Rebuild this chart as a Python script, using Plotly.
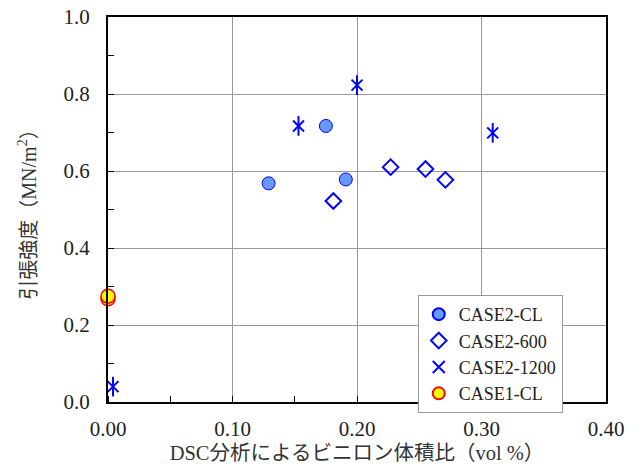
import plotly.graph_objects as go

# ---- data ----
cl2_x = [0.129, 0.175, 0.191]
cl2_y = [0.568, 0.717, 0.578]

s600_x = [0.181, 0.227, 0.255, 0.271]
s600_y = [0.522, 0.610, 0.605, 0.577]

s1200_x = [0.004, 0.153, 0.200, 0.309]
s1200_y = [0.040, 0.717, 0.823, 0.699]

cl1_x = [0.0, 0.0]
cl1_y = [0.268, 0.275]

x_ticks = [0.0, 0.1, 0.2, 0.3, 0.4]
x_labels = ["0.00", "0.10", "0.20", "0.30", "0.40"]
y_ticks = [0.0, 0.2, 0.4, 0.6, 0.8, 1.0]
y_labels = ["0.0", "0.2", "0.4", "0.6", "0.8", "1.0"]

LATIN = "Liberation Serif"
MIXED = "Liberation Serif, Noto Sans CJK JP"
TXT = "#222222"

fig = go.Figure()
fig.add_trace(go.Scatter(
    x=cl2_x, y=cl2_y, mode="markers", name="CASE2-CL",
    marker=dict(symbol="circle", size=13, color="#6699FF",
                line=dict(color="#0000FF", width=1)),
    cliponaxis=False))
fig.add_trace(go.Scatter(
    x=s600_x, y=s600_y, mode="markers", name="CASE2-600",
    marker=dict(symbol="diamond-open", size=12, color="#0000FF",
                line=dict(color="#0000FF", width=2)),
    cliponaxis=False))
fig.add_trace(go.Scatter(
    x=s1200_x, y=s1200_y, mode="markers", name="CASE2-1200",
    legendgroup="g1200",
    marker=dict(symbol="x-thin-open", size=11, color="#0000FF",
                line=dict(color="#0000FF", width=2)),
    cliponaxis=False))
fig.add_trace(go.Scatter(
    x=s1200_x, y=s1200_y, mode="markers", name="CASE2-1200",
    legendgroup="g1200", showlegend=False,
    marker=dict(symbol="line-ns-open", size=14, color="#0000FF",
                line=dict(color="#0000FF", width=2)),
    cliponaxis=False))
fig.add_trace(go.Scatter(
    x=cl1_x, y=cl1_y, mode="markers", name="CASE1-CL",
    marker=dict(symbol="circle", size=14, color="#FFFF00",
                line=dict(color="#FF0000", width=1.5)),
    cliponaxis=False))

fig.update_layout(
    width=641, height=469,
    margin=dict(l=108, r=35, t=17, b=67, autoexpand=False),
    paper_bgcolor="white", plot_bgcolor="white",
    font=dict(family=LATIN, size=16, color=TXT),
    showlegend=True,
    legend=dict(x=0.622, y=0.278, xanchor="left", yanchor="top",
                bgcolor="white", bordercolor="#999999", borderwidth=1,
                font=dict(family=LATIN, size=18, color=TXT),
                itemsizing="constant", tracegroupgap=0,
                itemwidth=30),
)
fig.update_xaxes(
    range=[0, 0.4], tickvals=x_ticks, ticktext=x_labels,
    showgrid=True, gridcolor="#999999", gridwidth=1,
    showline=True, linecolor="black", linewidth=2, mirror=True,
    ticks="", zeroline=False, automargin=False,
    ticklabeloverflow="allow", ticklabelstandoff=7,
    minor=dict(dtick=0.05, ticks="inside", ticklen=6, tickcolor="black", showgrid=False),
    title=dict(text="DSC分析によるビニロン体積比（vol %）",
               font=dict(family=MIXED, size=20.5, color="#333333"), standoff=5),
    tickfont=dict(family=LATIN, size=21, color=TXT),
)
fig.update_yaxes(
    range=[0, 1.0], tickvals=y_ticks, ticktext=y_labels,
    showgrid=True, gridcolor="#999999", gridwidth=1,
    showline=True, linecolor="black", linewidth=2, mirror=True,
    ticks="inside", ticklen=6, tickcolor="black", zeroline=False, automargin=False,
    ticklabeloverflow="allow", ticklabelstandoff=12,
    minor=dict(dtick=0.1, ticks="inside", ticklen=6, tickcolor="black", showgrid=False),
    title=dict(text="引張強度（MN/m<sup>2</sup>）",
               font=dict(family=MIXED, size=20, color="#333333"), standoff=22),
    tickfont=dict(family=LATIN, size=21, color=TXT),
)

fig.write_html("out.html", config={"displayModeBar": False},
               post_script="document.body.style.margin='0';")
